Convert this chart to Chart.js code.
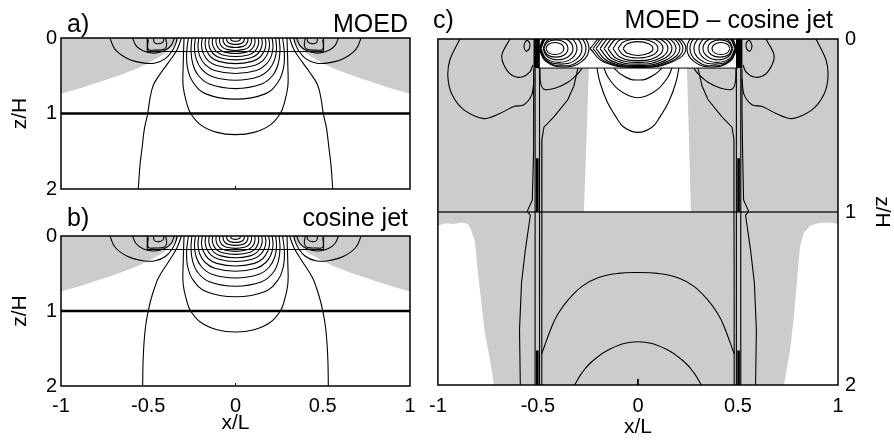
<!DOCTYPE html>
<html>
<head>
<meta charset="utf-8">
<script src="https://cdn.jsdelivr.net/npm/chart.js@4.4.1/dist/chart.umd.min.js"></script>
<style>
    body { margin: 0; background: #fff; }
    #wrap { position: relative; width: 894px; height: 443px; overflow: hidden; }
    canvas { position: absolute; }
</style>
</head>
<body>
<div id="wrap">
    <canvas id="panel-a" width="425" height="215" style="left:0;top:0"></canvas>
    <canvas id="panel-b" width="425" height="243" style="left:0;top:200px"></canvas>
    <canvas id="panel-c" width="474" height="443" style="left:420px;top:0"></canvas>
</div>
<script>
// --- Axis ticks ---
const xTickValues = [-1, -0.5, 0, 0.5, 1];
const xTickLabels = ['-1', '-0.5', '0', '0.5', '1'];
const zTickValues = [0, 1, 2];
const zTickLabels = ['0', '1', '2'];

// --- Panels a/b: shaded regions (x/L, z/H) ---
const shadeLeft = [[-1,0],[-0.32,0],[-0.335,0.05],[-0.36,0.12],[-0.42,0.23],[-0.49,0.32],[-0.56,0.40],[-0.66,0.49],[-0.75,0.56],[-0.88,0.66],[-1,0.74]];
const shadeRight = [[1,0],[0.32,0],[0.335,0.05],[0.36,0.12],[0.42,0.23],[0.49,0.32],[0.56,0.40],[0.66,0.49],[0.75,0.56],[0.88,0.66],[1,0.74]];

// --- Panels a/b: contours reaching the bottom ---
const outerLeftA = [[-0.31,0],[-0.336,0.16],[-0.386,0.33],[-0.43,0.47],[-0.47,0.62],[-0.49,0.8],[-0.503,1.0],[-0.522,1.2],[-0.535,1.45],[-0.548,1.7],[-0.557,2]];
const outerRightA = [[0.31,0],[0.336,0.16],[0.386,0.33],[0.43,0.47],[0.47,0.62],[0.49,0.8],[0.503,1.0],[0.522,1.2],[0.535,1.45],[0.548,1.7],[0.557,2]];
const outerLeftB = [[-0.31,0],[-0.336,0.16],[-0.38,0.33],[-0.44,0.55],[-0.465,0.7],[-0.485,0.85],[-0.5,1.0],[-0.515,1.2],[-0.525,1.45],[-0.53,1.7],[-0.532,2]];
const outerRightB = [[0.31,0],[0.336,0.16],[0.38,0.33],[0.44,0.55],[0.465,0.7],[0.485,0.85],[0.5,1.0],[0.515,1.2],[0.525,1.45],[0.53,1.7],[0.532,2]];

// --- Panels a/b: nested jet contours ---
const jetBowls = [
    [[-0.295,0],[-0.30,0.38],[-0.30,0.64],[-0.28,0.86],[-0.257,1.0],[-0.20,1.15],[-0.106,1.25],[0,1.28],[0.106,1.25],[0.20,1.15],[0.257,1.0],[0.28,0.86],[0.30,0.64],[0.30,0.38],[0.295,0]],
    [[-0.27,0],[-0.28,0.2],[-0.275,0.4],[-0.245,0.58],[-0.17,0.74],[0,0.81],[0.17,0.74],[0.245,0.58],[0.275,0.4],[0.28,0.2],[0.27,0]],
    [[-0.25,0],[-0.255,0.17],[-0.245,0.34],[-0.215,0.49],[-0.15,0.61],[0,0.67],[0.15,0.61],[0.215,0.49],[0.245,0.34],[0.255,0.17],[0.25,0]],
    [[-0.23,0],[-0.235,0.14],[-0.225,0.28],[-0.195,0.41],[-0.135,0.51],[0,0.56],[0.135,0.51],[0.195,0.41],[0.225,0.28],[0.235,0.14],[0.23,0]],
    [[-0.21,0],[-0.215,0.12],[-0.205,0.24],[-0.175,0.35],[-0.12,0.43],[0,0.47],[0.12,0.43],[0.175,0.35],[0.205,0.24],[0.215,0.12],[0.21,0]],
    [[-0.19,0],[-0.195,0.1],[-0.185,0.2],[-0.157,0.3],[-0.108,0.365],[0,0.4],[0.108,0.365],[0.157,0.3],[0.185,0.2],[0.195,0.1],[0.19,0]],
    [[-0.17,0],[-0.174,0.085],[-0.165,0.17],[-0.14,0.255],[-0.096,0.31],[0,0.34],[0.096,0.31],[0.14,0.255],[0.165,0.17],[0.174,0.085],[0.17,0]],
    [[-0.15,0],[-0.153,0.072],[-0.145,0.145],[-0.123,0.218],[-0.084,0.265],[0,0.29],[0.084,0.265],[0.123,0.218],[0.145,0.145],[0.153,0.072],[0.15,0]],
    [[-0.13,0],[-0.133,0.06],[-0.126,0.122],[-0.107,0.184],[-0.073,0.224],[0,0.245],[0.073,0.224],[0.107,0.184],[0.126,0.122],[0.133,0.06],[0.13,0]],
    [[-0.11,0],[-0.112,0.05],[-0.106,0.102],[-0.09,0.154],[-0.062,0.187],[0,0.205],[0.062,0.187],[0.09,0.154],[0.106,0.102],[0.112,0.05],[0.11,0]],
    [[-0.09,0],[-0.092,0.04],[-0.087,0.082],[-0.074,0.124],[-0.05,0.151],[0,0.165],[0.05,0.151],[0.074,0.124],[0.087,0.082],[0.092,0.04],[0.09,0]],
    [[-0.07,0],[-0.071,0.031],[-0.067,0.062],[-0.057,0.094],[-0.039,0.114],[0,0.125],[0.039,0.114],[0.057,0.094],[0.067,0.062],[0.071,0.031],[0.07,0]],
    [[-0.05,0],[-0.05,0.03],[-0.042,0.06],[-0.025,0.078],[0,0.085],[0.025,0.078],[0.042,0.06],[0.05,0.03],[0.05,0]],
    [[-0.028,0],[-0.026,0.025],[-0.015,0.04],[0,0.045],[0.015,0.04],[0.026,0.025],[0.028,0]]
];

// --- Panels a/b: flank contours near the surface ---
const flankArcs = [
    [[-0.72,0],[-0.69,0.15],[-0.62,0.27],[-0.53,0.33],[-0.46,0.33],[-0.4,0.27],[-0.36,0.16],[-0.34,0.06],[-0.335,0]],
    [[0.72,0],[0.69,0.15],[0.62,0.27],[0.53,0.33],[0.46,0.33],[0.4,0.27],[0.36,0.16],[0.34,0.06],[0.335,0]],
    [[-0.59,0],[-0.57,0.1],[-0.53,0.17],[-0.47,0.2],[-0.41,0.17],[-0.37,0.1],[-0.35,0]],
    [[0.59,0],[0.57,0.1],[0.53,0.17],[0.47,0.2],[0.41,0.17],[0.37,0.1],[0.35,0]],
    [[-0.40,0],[-0.395,0.1],[-0.41,0.15],[-0.46,0.16],[-0.5,0.15],[-0.5,0.02]],
    [[0.40,0],[0.395,0.1],[0.41,0.15],[0.46,0.16],[0.5,0.15],[0.5,0.02]],
    [[-0.47,0],[-0.465,0.06],[-0.44,0.075],[-0.415,0.05],[-0.41,0]],
    [[0.47,0],[0.465,0.06],[0.44,0.075],[0.415,0.05],[0.41,0]]
];
const jetBox = [[-0.505,0],[-0.505,0.18],[0.505,0.18],[0.505,0]];
const layerLine = [[-1,1],[1,1]];
const centreTick = [[0,1.965],[0,2]];

// --- Panel c: white (unshaded) regions ---
const whiteBand = [[-0.49,0],[0.49,0],[0.49,0.168],[-0.49,0.168]];
const whiteColumn = [[-0.245,0.168],[0.245,0.168],[0.265,1],[-0.27,1]];
const whiteLowLeft = [[-1,1.08],[-0.96,1.065],[-0.92,1.07],[-0.88,1.06],[-0.85,1.07],[-0.835,1.1],[-0.815,1.17],[-0.8,1.35],[-0.78,1.55],[-0.765,1.7],[-0.74,1.85],[-0.72,2],[-1,2]];
const whiteLowRight = [[1,1.07],[0.96,1.06],[0.9,1.065],[0.86,1.08],[0.83,1.12],[0.81,1.2],[0.795,1.4],[0.78,1.6],[0.76,1.8],[0.73,2],[1,2]];
const edgeBandLeft = [[-0.522,0],[-0.49,0],[-0.49,0.168],[-0.522,0.168]];
const edgeBandRight = [[0.49,0],[0.522,0],[0.522,0.168],[0.49,0.168]];

// --- Panel c: difference contours ---
const centreRings = [
    [[-0.075,0.055],[-0.053,0.027],[0,0.015],[0.053,0.027],[0.075,0.055],[0.053,0.083],[0,0.095],[-0.053,0.083],[-0.075,0.055]],
    [[-0.1,0.055],[-0.071,0.016],[0,0],[0.071,0.016],[0.1,0.055],[0.071,0.094],[0,0.11],[-0.071,0.094],[-0.1,0.055]],
    [[-0.125,0.055],[-0.089,0.005],[0,-0.015],[0.089,0.005],[0.125,0.055],[0.089,0.105],[0,0.125],[-0.089,0.105],[-0.125,0.055]],
    [[-0.15,0.055],[-0.107,-0.002],[0,-0.025],[0.107,-0.002],[0.15,0.055],[0.107,0.112],[0,0.135],[-0.107,0.112],[-0.15,0.055]],
    [[-0.17,0.055],[-0.121,-0.009],[0,-0.035],[0.121,-0.009],[0.17,0.055],[0.121,0.119],[0,0.145],[-0.121,0.119],[-0.17,0.055]],
    [[-0.19,0.055],[-0.135,-0.015],[0,-0.043],[0.135,-0.015],[0.19,0.055],[0.135,0.125],[0,0.153],[-0.135,0.125],[-0.19,0.055]],
    [[-0.21,0.055],[-0.149,-0.019],[0,-0.049],[0.149,-0.019],[0.21,0.055],[0.149,0.129],[0,0.159],[-0.149,0.129],[-0.21,0.055]],
    [[-0.225,0.055],[-0.16,-0.022],[0,-0.053],[0.16,-0.022],[0.225,0.055],[0.16,0.132],[0,0.163],[-0.16,0.132],[-0.225,0.055]],
    [[-0.24,0.055],[-0.17,-0.023],[0,-0.055],[0.17,-0.023],[0.24,0.055],[0.17,0.133],[0,0.165],[-0.17,0.133],[-0.24,0.055]]
];
const sideRings = [
    [[-0.46,0.055],[-0.447,0.03],[-0.415,0.02],[-0.383,0.03],[-0.37,0.055],[-0.383,0.08],[-0.415,0.09],[-0.447,0.08],[-0.46,0.055]],
    [[-0.47,0.055],[-0.453,0.019],[-0.41,0.005],[-0.367,0.019],[-0.35,0.055],[-0.367,0.091],[-0.41,0.105],[-0.453,0.091],[-0.47,0.055]],
    [[-0.475,0.055],[-0.453,0.009],[-0.40,-0.01],[-0.347,0.009],[-0.325,0.055],[-0.347,0.101],[-0.40,0.12],[-0.453,0.101],[-0.475,0.055]],
    [[-0.485,0.055],[-0.459,-0.002],[-0.395,-0.025],[-0.331,-0.002],[-0.305,0.055],[-0.331,0.112],[-0.395,0.135],[-0.459,0.112],[-0.485,0.055]],
    [[-0.49,0.055],[-0.46,-0.009],[-0.385,-0.035],[-0.31,-0.009],[-0.28,0.055],[-0.31,0.119],[-0.385,0.145],[-0.46,0.119],[-0.49,0.055]],
    [[-0.49,0.055],[-0.457,-0.016],[-0.375,-0.045],[-0.293,-0.016],[-0.26,0.055],[-0.293,0.126],[-0.375,0.155],[-0.457,0.126],[-0.49,0.055]],
    [[-0.495,0.055],[-0.459,-0.021],[-0.37,-0.052],[-0.281,-0.021],[-0.245,0.055],[-0.281,0.131],[-0.37,0.162],[-0.459,0.131],[-0.495,0.055]],
    [[0.46,0.055],[0.447,0.03],[0.415,0.02],[0.383,0.03],[0.37,0.055],[0.383,0.08],[0.415,0.09],[0.447,0.08],[0.46,0.055]],
    [[0.47,0.055],[0.453,0.019],[0.41,0.005],[0.367,0.019],[0.35,0.055],[0.367,0.091],[0.41,0.105],[0.453,0.091],[0.47,0.055]],
    [[0.475,0.055],[0.453,0.009],[0.40,-0.01],[0.347,0.009],[0.325,0.055],[0.347,0.101],[0.40,0.12],[0.453,0.101],[0.475,0.055]],
    [[0.485,0.055],[0.459,-0.002],[0.395,-0.025],[0.331,-0.002],[0.305,0.055],[0.331,0.112],[0.395,0.135],[0.459,0.112],[0.485,0.055]],
    [[0.49,0.055],[0.46,-0.009],[0.385,-0.035],[0.31,-0.009],[0.28,0.055],[0.31,0.119],[0.385,0.145],[0.46,0.119],[0.49,0.055]],
    [[0.49,0.055],[0.457,-0.016],[0.375,-0.045],[0.293,-0.016],[0.26,0.055],[0.293,0.126],[0.375,0.155],[0.457,0.126],[0.49,0.055]],
    [[0.495,0.055],[0.459,-0.021],[0.37,-0.052],[0.281,-0.021],[0.245,0.055],[0.281,0.131],[0.37,0.162],[0.459,0.131],[0.495,0.055]]
];
const underBowls = [
    [[-0.12,0.168],[-0.09,0.2],[-0.04,0.232],[0,0.237],[0.04,0.232],[0.09,0.2],[0.12,0.168]],
    [[-0.17,0.168],[-0.15,0.22],[-0.1,0.29],[-0.04,0.33],[0,0.34],[0.04,0.33],[0.1,0.29],[0.15,0.22],[0.17,0.168]],
    [[-0.205,0.168],[-0.19,0.25],[-0.155,0.36],[-0.11,0.45],[-0.07,0.51],[0,0.54],[0.07,0.51],[0.11,0.45],[0.155,0.36],[0.19,0.25],[0.205,0.168]]
];
const flankLoops = [
    [[-0.89,0],[-0.94,0.12],[-0.95,0.22],[-0.93,0.32],[-0.87,0.41],[-0.77,0.46],[-0.69,0.43],[-0.62,0.39],[-0.57,0.38],[-0.53,0.32],[-0.52,0.23]],
    [[0.89,0],[0.94,0.12],[0.95,0.22],[0.93,0.32],[0.87,0.41],[0.77,0.46],[0.69,0.43],[0.62,0.39],[0.57,0.38],[0.53,0.32],[0.52,0.23]],
    [[-0.64,0],[-0.68,0.09],[-0.67,0.15],[-0.63,0.21],[-0.58,0.22],[-0.54,0.19],[-0.525,0.15]],
    [[0.64,0],[0.68,0.09],[0.67,0.15],[0.63,0.21],[0.58,0.22],[0.54,0.19],[0.525,0.15]],
    [[-0.56,0.01],[-0.57,0.04],[-0.56,0.07],[-0.545,0.06],[-0.54,0.03],[-0.55,0.01],[-0.56,0.01]],
    [[0.56,0.01],[0.57,0.04],[0.56,0.07],[0.545,0.06],[0.54,0.03],[0.55,0.01],[0.56,0.01]],
    [[-0.49,0.17],[-0.487,0.25],[-0.47,0.29],[-0.415,0.285],[-0.35,0.25],[-0.3,0.2],[-0.28,0.17]],
    [[0.49,0.17],[0.487,0.25],[0.47,0.29],[0.415,0.285],[0.35,0.25],[0.3,0.2],[0.28,0.17]]
];
const edgeLines = [
    [[-0.52,0.17],[-0.52,0.4],[-0.523,0.64],[-0.528,0.93],[-0.553,0.995],[-0.538,1.02],[-0.563,1.22],[-0.582,1.41],[-0.592,1.68],[-0.588,2]],
    [[0.52,0.17],[0.52,0.4],[0.523,0.64],[0.528,0.93],[0.553,0.995],[0.538,1.02],[0.563,1.22],[0.582,1.41],[0.592,1.68],[0.588,2]],
    [[-0.514,0.168],[-0.514,2]], [[-0.492,0.168],[-0.492,2]],
    [[0.492,0.168],[0.492,2]], [[0.514,0.168],[0.514,2]],
    [[-0.30,0.168],[-0.32,0.27],[-0.35,0.35],[-0.42,0.45],[-0.47,0.51],[-0.48,0.58],[-0.48,1.0],[-0.481,1.5],[-0.481,2]],
    [[0.30,0.168],[0.32,0.27],[0.35,0.35],[0.42,0.45],[0.47,0.51],[0.48,0.58],[0.48,1.0],[0.481,1.5],[0.481,2]]
];
const edgeThick = [
    [[-0.503,0.69],[-0.503,1.0]], [[-0.503,1.8],[-0.503,2]],
    [[0.503,0.69],[0.503,1.0]], [[0.503,1.8],[0.503,2]]
];
const deepBowls = [
    [[-0.481,1.82],[-0.43,1.66],[-0.4,1.59],[-0.35,1.51],[-0.28,1.43],[-0.2,1.38],[-0.1,1.355],[0,1.35],[0.1,1.355],[0.2,1.38],[0.28,1.43],[0.35,1.51],[0.4,1.59],[0.43,1.66],[0.481,1.82]],
    [[-0.317,2],[-0.28,1.93],[-0.235,1.87],[-0.137,1.79],[0,1.75],[0.137,1.79],[0.235,1.87],[0.28,1.93],[0.317,2]]
];
const cBoxLine = [[-0.5,0.168],[0.5,0.168]];

// --- Styling helpers ---
const FONT = '"Liberation Sans", Arial, Helvetica, sans-serif';
const GRAY = '#cccccc';

const toXY = pts => pts.map(p => ({ x: p[0], y: p[1] }));

function contour(pts, extra) {
    return Object.assign({
        data: toXY(pts),
        borderColor: '#000',
        borderWidth: 1.1,
        pointRadius: 0,
        tension: 0.4,
        fill: false,
        order: 0
    }, extra);
}

function patch(pts, color) {
    return {
        data: toXY(pts),
        borderColor: 'rgba(0,0,0,0)',
        borderWidth: 1,
        backgroundColor: color,
        pointRadius: 0,
        tension: 0,
        fill: 'shape',
        order: 5
    };
}

const textPlugin = items => ({
    id: 'panelText',
    afterDraw(chart) {
        const ctx = chart.ctx;
        ctx.save();
        ctx.fillStyle = '#000';
        ctx.font = '25px ' + FONT;
        ctx.textBaseline = 'alphabetic';
        items.forEach(t => {
            ctx.textAlign = t.align;
            ctx.fillText(t.text, t.x, t.y);
        });
        ctx.restore();
    }
});

const framePlugin = {
    id: 'frame',
    afterDatasetsDraw(chart) {
        const { left, top, width, height } = chart.chartArea;
        const ctx = chart.ctx;
        ctx.save();
        ctx.strokeStyle = '#000';
        ctx.lineWidth = 1.5;
        ctx.strokeRect(left, top, width, height);
        ctx.restore();
    }
};

const shadePlugin = {
    id: 'shade',
    beforeDraw(chart) {
        const { left, top, width, height } = chart.chartArea;
        chart.ctx.save();
        chart.ctx.fillStyle = GRAY;
        chart.ctx.fillRect(left, top, width, height);
        chart.ctx.restore();
    }
};

function zAxis(position, width, titlePad) {
    return {
        type: 'linear', min: 0, max: 2, reverse: true, position: position,
        grid: { display: false, drawTicks: false }, border: { display: false },
        ticks: { stepSize: 1, padding: position === 'left' ? 4 : 7, color: '#000',
                 font: { family: FONT, size: 20 },
                 callback: v => zTickLabels[zTickValues.indexOf(v)] },
        title: { display: true, text: 'z/H', color: '#000', font: { family: FONT, size: 21 },
                 padding: { top: titlePad, bottom: 0 } },
        afterFit: s => { s.width = width; }
    };
}

function xAxis(show, height, tickPad, titlePad) {
    if (!show) return { type: 'linear', min: -1, max: 1, display: false };
    return {
        type: 'linear', min: -1, max: 1, position: 'bottom',
        grid: { display: false, drawTicks: false }, border: { display: false },
        ticks: { stepSize: 0.5, padding: tickPad, color: '#000', autoSkip: false, maxRotation: 0,
                 font: { family: FONT, size: 20 },
                 callback: v => xTickLabels[xTickValues.indexOf(v)] },
        title: { display: true, text: 'x/L', color: '#000', font: { family: FONT, size: 21 },
                 padding: { top: 0, bottom: titlePad } },
        afterFit: s => { s.height = height; }
    };
}

function baseOptions(scales, padding) {
    return {
        responsive: false,
        animation: false,
        devicePixelRatio: 1,
        layout: { padding: padding },
        plugins: { legend: { display: false }, tooltip: { enabled: false } },
        scales: scales
    };
}

function panelABDatasets(outerL, outerR) {
    const sets = [patch(shadeLeft, GRAY), patch(shadeRight, GRAY)];
    sets.push(contour(outerL), contour(outerR));
    jetBowls.forEach(b => sets.push(contour(b)));
    flankArcs.forEach(a => sets.push(contour(a)));
    sets.push(contour(jetBox, { tension: 0, borderWidth: 1 }));
    sets.push(contour(layerLine, { tension: 0, borderWidth: 2.6 }));
    sets.push(contour(centreTick, { tension: 0, borderWidth: 1 }));
    return sets;
}

// --- Panel a ---
new Chart(document.getElementById('panel-a'), {
    type: 'line',
    data: { datasets: panelABDatasets(outerLeftA, outerRightA) },
    options: baseOptions({ x: xAxis(false), y: zAxis('left', 61, 8) },
                         { top: 38, bottom: 26, left: 0, right: 15 }),
    plugins: [framePlugin, textPlugin([
        { text: 'a)', x: 67, y: 32, align: 'left' },
        { text: 'MOED', x: 408, y: 32, align: 'right' }
    ])]
});

// --- Panel b ---
new Chart(document.getElementById('panel-b'), {
    type: 'line',
    data: { datasets: panelABDatasets(outerLeftB, outerRightB) },
    options: baseOptions({ x: xAxis(true, 57, 8, 7), y: zAxis('left', 61, 8) },
                         { top: 36, bottom: 0, left: 0, right: 15 }),
    plugins: [framePlugin, textPlugin([
        { text: 'b)', x: 67, y: 26, align: 'left' },
        { text: 'cosine jet', x: 408, y: 26, align: 'right' }
    ])]
});

// --- Panel c ---
const cSets = [
    patch(whiteBand, '#fff'), patch(whiteColumn, '#fff'),
    patch(whiteLowLeft, '#fff'), patch(whiteLowRight, '#fff'),
    patch(edgeBandLeft, '#000'), patch(edgeBandRight, '#000')
];
centreRings.forEach(r => cSets.push(contour(r, { tension: 0.45 })));
sideRings.forEach(r => cSets.push(contour(r, { tension: 0.45 })));
underBowls.forEach(b => cSets.push(contour(b)));
flankLoops.forEach(l => cSets.push(contour(l, { tension: 0.3 })));
edgeLines.forEach(l => cSets.push(contour(l, { tension: 0 })));
edgeThick.forEach(l => cSets.push(contour(l, { tension: 0, borderWidth: 2.6 })));
deepBowls.forEach(b => cSets.push(contour(b)));
cSets.push(contour(cBoxLine, { tension: 0, borderWidth: 1 }));
cSets.push(contour(layerLine, { tension: 0, borderWidth: 1.3, borderColor: '#222' }));
cSets.push(contour(centreTick, { tension: 0, borderWidth: 1 }));

new Chart(document.getElementById('panel-c'), {
    type: 'line',
    data: { datasets: cSets },
    options: baseOptions({ x: xAxis(true, 58, 9, 3), y: zAxis('right', 56, 0) },
                         { top: 39, bottom: 0, left: 11, right: 0 }),
    plugins: [shadePlugin, framePlugin, textPlugin([
        { text: 'c)', x: 13, y: 28, align: 'left' },
        { text: 'MOED \u2013 cosine jet', x: 413, y: 28, align: 'right' }
    ])]
});
</script>
</body>
</html>
